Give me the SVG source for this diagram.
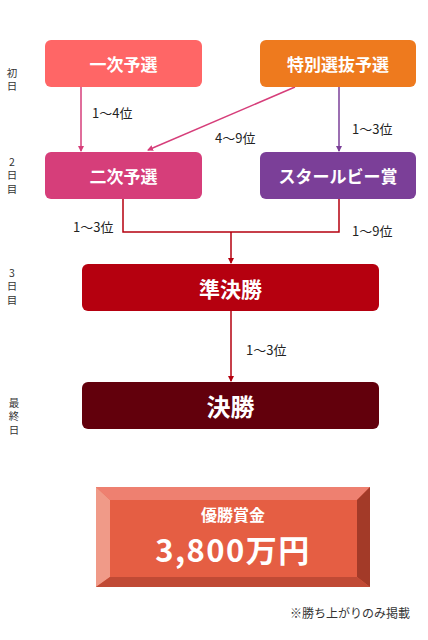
<svg xmlns="http://www.w3.org/2000/svg" width="428" height="640" viewBox="0 0 428 640">
<style>
.nt{font-family:"Noto Sans CJK JP","Noto Sans",sans-serif;font-weight:bold;fill:#fff;text-anchor:middle;dominant-baseline:central}
.lb{font-family:"Noto Sans CJK JP","Noto Sans",sans-serif;font-size:13px;fill:#222;dominant-baseline:central}
.dy{font-family:"Noto Sans CJK JP","Noto Sans",sans-serif;font-size:10.5px;fill:#333;text-anchor:middle;writing-mode:vertical-rl;text-orientation:upright;letter-spacing:3px}
.ln{fill:none;stroke-width:1.5}
</style>
<defs>
<marker id="ap" markerWidth="6" markerHeight="6" refX="5" refY="3" orient="auto" markerUnits="userSpaceOnUse"><path d="M0,0 L6,3 L0,6 Z" fill="#D63E7A"/></marker>
<marker id="au" markerWidth="6" markerHeight="6" refX="5" refY="3" orient="auto" markerUnits="userSpaceOnUse"><path d="M0,0 L6,3 L0,6 Z" fill="#7B3F98"/></marker>
<marker id="ar" markerWidth="6" markerHeight="6" refX="5" refY="3" orient="auto" markerUnits="userSpaceOnUse"><path d="M0,0 L6,3 L0,6 Z" fill="#B5000F"/></marker>
</defs>
<rect width="428" height="640" fill="#fff"/>
<g id="days">
<text class="dy" x="12" y="81">初日</text>
<text class="dy" x="12" y="177">2日目</text>
<text class="dy" x="12" y="288">3日目</text>
<text class="dy" x="14" y="418">最終日</text>
</g>
<g id="connectors">
<line class="ln" x1="81" y1="87" x2="81" y2="151" stroke="#D63E7A" marker-end="url(#ap)"/>
<line class="ln" x1="295" y1="87" x2="148" y2="150" stroke="#D63E7A" marker-end="url(#ap)"/>
<line class="ln" x1="339" y1="87" x2="339" y2="151" stroke="#7B3F98" marker-end="url(#au)"/>
<polyline class="ln" points="123,199 123,232 339,232 339,199" stroke="#B5000F"/>
<line class="ln" x1="231" y1="232" x2="231" y2="263" stroke="#B5000F" marker-end="url(#ar)"/>
<line class="ln" x1="231" y1="311" x2="231" y2="381" stroke="#B5000F" marker-end="url(#ar)"/>
<text class="lb" x="92" y="112">1〜4位</text>
<text class="lb" x="215" y="137">4〜9位</text>
<text class="lb" x="352" y="128">1〜3位</text>
<text class="lb" x="73" y="226">1〜3位</text>
<text class="lb" x="352" y="230">1〜9位</text>
<text class="lb" x="246" y="349">1〜3位</text>
</g>
<g id="n1"><rect x="45" y="40" width="157" height="47" rx="6" fill="#FF6666"/><text class="nt" x="123.5" y="63.5" font-size="17">一次予選</text></g>
<g id="n2"><rect x="260" y="40" width="156" height="47" rx="6" fill="#EE7A1E"/><text class="nt" x="338" y="63.5" font-size="17">特別選抜予選</text></g>
<g id="n3"><rect x="45" y="152" width="157" height="47" rx="6" fill="#D63E7A"/><text class="nt" x="123.5" y="175.5" font-size="17">二次予選</text></g>
<g id="n4"><rect x="260" y="152" width="156" height="47" rx="6" fill="#7B3F98"/><text class="nt" x="338" y="175.5" font-size="17">スタールビー賞</text></g>
<g id="n5"><rect x="82" y="264" width="297" height="47" rx="6" fill="#B5000F"/><text class="nt" x="230.5" y="287.5" font-size="21">準決勝</text></g>
<g id="n6"><rect x="82" y="382" width="297" height="47" rx="6" fill="#62000C"/><text class="nt" x="230.5" y="405.5" font-size="24">決勝</text></g>
<g id="prize">
<rect x="96" y="487" width="274" height="100" fill="#E55E43"/>
<polygon points="96,487 370,487 357,500 110,500" fill="#EE8070"/>
<polygon points="96,487 110,500 110,577 96,587" fill="#F09A88"/>
<polygon points="370,487 370,587 357,577 357,500" fill="#A33A28"/>
<polygon points="96,587 110,577 357,577 370,587" fill="#C04A35"/>
<text class="nt" x="233" y="514" font-size="16">優勝賞金</text>
<text class="nt" x="233" y="548" font-size="31" letter-spacing="1.5">3,800万円</text>
</g>
<text x="290" y="612" font-family="Noto Sans CJK JP, Noto Sans, sans-serif" font-size="12" fill="#333" dominant-baseline="central">※勝ち上がりのみ掲載</text>
</svg>
